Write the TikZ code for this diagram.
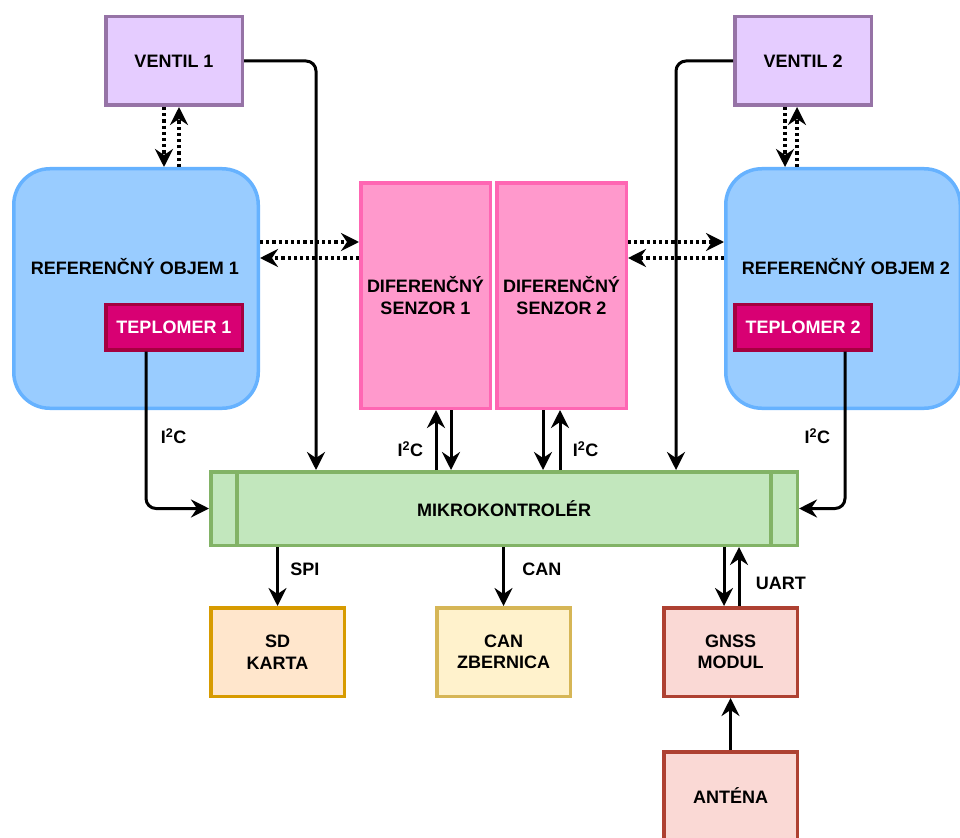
\documentclass[tikz,border=0pt]{standalone}
\usepackage{fontspec}
\setmainfont{Liberation Sans}
\usepackage{xcolor}
\usetikzlibrary{
  arrows.meta,
  positioning
}
\definecolor{ventilfill}{HTML}{E5CCFF}
\definecolor{ventildraw}{HTML}{9673A6}
\definecolor{objemfill}{HTML}{99CCFF}
\definecolor{objemdraw}{HTML}{66B2FF}
\definecolor{tepfill}{HTML}{D80073}
\definecolor{tepdraw}{HTML}{A50040}
\definecolor{senzfill}{HTML}{FF99CC}
\definecolor{senzdraw}{HTML}{FF66B3}
\definecolor{mcufill}{HTML}{C2E7BD}
\definecolor{mcudraw}{HTML}{82B366}
\definecolor{sdfill}{HTML}{FFE6CC}
\definecolor{sddraw}{HTML}{D79B00}
\definecolor{canfill}{HTML}{FFF2CC}
\definecolor{candraw}{HTML}{D6B656}
\definecolor{gnssfill}{HTML}{FAD9D5}
\definecolor{gnssdraw}{HTML}{AE4132}

\begin{document}
\begin{tikzpicture}[
  x=1pt, y=-1pt,
  font=\bfseries\fontsize{18}{21.5}\selectfont,
  every node/.style = {align=center},
  box/.style = {draw, line width=3.5pt, inner sep=2pt,
    minimum width=136.5pt, minimum height=88.5pt},
  ventil/.style = {box, fill=ventilfill, draw=ventildraw},
  objem/.style = {box, fill=objemfill, draw=objemdraw, rounded corners=36pt,
    minimum height=239.5pt},
  tep/.style = {box, fill=tepfill, draw=tepdraw, text=white,
    minimum height=45.5pt},
  senz/.style = {box, fill=senzfill, draw=senzdraw,
    minimum width=129.5pt, minimum height=225.5pt},
  wire/.style = {line width=3pt, rounded corners=10pt,
    -{Stealth[length=18pt, width=18pt, inset=6pt]}},
  air/.style = {wire, line width=3.4pt, dash pattern=on 3.2pt off 3pt}]
  \useasboundingbox (0,0) rectangle (960,837);

  % ventily a objemy
  \node[ventil] (v1) at (174,61) {VENTIL 1};
  \node[ventil] (v2) at (803,61) {VENTIL 2};
  \node[objem, minimum width=244.5pt] (r1) at (136,288.5) {};
  \node[objem, minimum width=234.5pt] (r2) at (843,288.5) {};
  \node (r1t) at (135,267) {REFERENČNÝ OBJEM 1};
  \node (r2t) at (846,267) {REFERENČNÝ OBJEM 2};
  \node[tep] (t1) at (174,327) {TEPLOMER 1};
  \node[tep] (t2) at (803,327) {TEPLOMER 2};

  % senzory
  \node[senz] (d1) at (425.5,295.5) {DIFERENČNÝ\\SENZOR 1};
  \node[senz] (d2) at (561.5,295.5) {DIFERENČNÝ\\SENZOR 2};

  % mikrokontroler
  \node[box, fill=mcufill, draw=mcudraw, minimum width=586.5pt,
    minimum height=73.5pt] (mcu) at (504,508.5) {MIKROKONTROLÉR};
  \foreach \x in {237,771}
    \draw[mcudraw, line width=3.5pt] (mcu.north -| \x,0) -- (mcu.south -| \x,0);

  % periferie
  \node[box, fill=sdfill, draw=sddraw, minimum width=133.5pt] (sd) at (277.5,652) {SD\\KARTA};
  \node[box, fill=canfill, draw=candraw, minimum width=133.5pt] (can) at (503.5,652) {CAN\\ZBERNICA};
  \node[box, fill=gnssfill, draw=gnssdraw, minimum width=133.5pt] (gnss) at (730.5,652) {GNSS\\MODUL};
  \node[box, fill=gnssfill, draw=gnssdraw, minimum width=133.5pt] (ant) at (730.5,796) {ANTÉNA};

  % ventil <-> objem
  \draw[air] ([xshift=-10pt]v1.south) -- ([xshift=-10pt]v1.south |- r1.north);
  \draw[air] ([xshift=5pt]v1.south |- r1.north) -- ([xshift=5pt]v1.south);
  \draw[air] ([xshift=-18pt]v2.south) -- ([xshift=-18pt]v2.south |- r2.north);
  \draw[air] ([xshift=-6pt]v2.south |- r2.north) -- ([xshift=-6pt]v2.south);

  % objem <-> senzor
  \draw[air] (r1.east |- 0,242) -- (d1.west |- 0,242);
  \draw[air] (d1.west |- 0,258) -- (r1.east |- 0,258);
  \draw[air] (d2.east |- 0,242) -- (r2.west |- 0,242);
  \draw[air] (r2.west |- 0,258) -- (d2.east |- 0,258);

  % ventil -> mcu
  \draw[wire] (v1.east) -| (mcu.north -| 316,0);
  \draw[wire] (v2.west) -| (mcu.north -| 676,0);

  % teplomer -> mcu
  \draw[wire] ([xshift=-28pt]t1.south) |- (mcu.west)
    node[pos=0.27, right=10pt] {I\textsuperscript{2}C};
  \draw[wire] ([xshift=42pt]t2.south) |- (mcu.east)
    node[pos=0.27, left=10pt] {I\textsuperscript{2}C};

  % senzor <-> mcu
  \draw[wire] (mcu.north -| 436,0) -- (d1.south -| 436,0)
    node[pos=0.35, left=8pt] {I\textsuperscript{2}C};
  \draw[wire] (d1.south -| 451,0) -- (mcu.north -| 451,0);
  \draw[wire] (d2.south -| 543,0) -- (mcu.north -| 543,0);
  \draw[wire] (mcu.north -| 560,0) -- (d2.south -| 560,0)
    node[pos=0.35, right=8pt] {I\textsuperscript{2}C};

  % mcu -> periferie
  \draw[wire] (mcu.south -| sd.north) -- (sd.north)
    node[pos=0.38, right=8pt] {SPI};
  \draw[wire] (mcu.south -| can.north) -- (can.north)
    node[pos=0.38, right=14pt] {CAN};
  \draw[wire] (mcu.south -| 724,0) -- (gnss.north -| 724,0);
  \draw[wire] (gnss.north -| 739,0) -- (mcu.south -| 739,0)
    node[pos=0.39, right=12pt] {UART};
  \draw[wire] (ant) -- (gnss);
\end{tikzpicture}
\end{document}
